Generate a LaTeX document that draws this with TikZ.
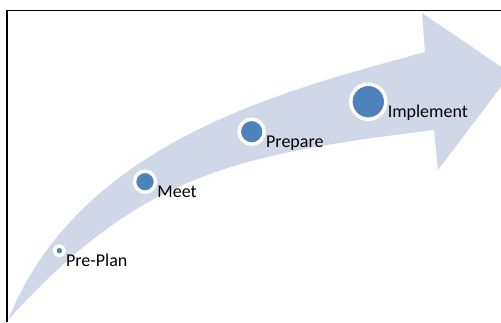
\documentclass[tikz,border=0pt]{standalone}
\usepackage{fontspec}
\setmainfont{Carlito}
\usetikzlibrary{positioning}
\definecolor{bandblue}{RGB}{208,216,232}
\definecolor{dotblue}{RGB}{79,129,189}
\begin{document}
\begin{tikzpicture}[x=1pt,y=-1pt,
    dot/.style={circle,fill=dotblue,draw=white,line width=3.5pt,inner sep=0pt},
    lbl/.style={anchor=base west,inner sep=0pt,font=\fontsize{18}{20}\selectfont}]
  \clip (0,0) rectangle (501,322);
  % curved arrow
  \fill[bandblue] (8,320) .. controls (80,140) and (287,90) .. (425,52)
     -- (422,13) -- (511,73.5) -- (438,170) -- (434,130)
     .. controls (231,155) and (140,175) .. (8,320) -- cycle;
  \draw[line width=1.3pt] (7,322) -- (7,10.5) -- (501,10.5);
  % steps
  \node[dot,minimum size=9.5pt] (pre) at (59.3,250.7) {};
  \node[dot,minimum size=21pt] (meet) at (145,181.7) {};
  \node[dot,minimum size=25pt] (prep) at (251.7,131.7) {};
  \node[dot,minimum size=35pt] (impl) at (368.3,101.7) {};
  \node[lbl] (prel) at ([yshift=-16pt]pre.east) {Pre-Plan};
  \node[lbl] (meetl) at ([yshift=-16pt]meet.east) {Meet};
  \node[lbl] (prepl) at ([yshift=-16pt]prep.east) {Prepare};
  \node[lbl] (impll) at ([yshift=-16pt]impl.east) {Implement};
\end{tikzpicture}
\end{document}
